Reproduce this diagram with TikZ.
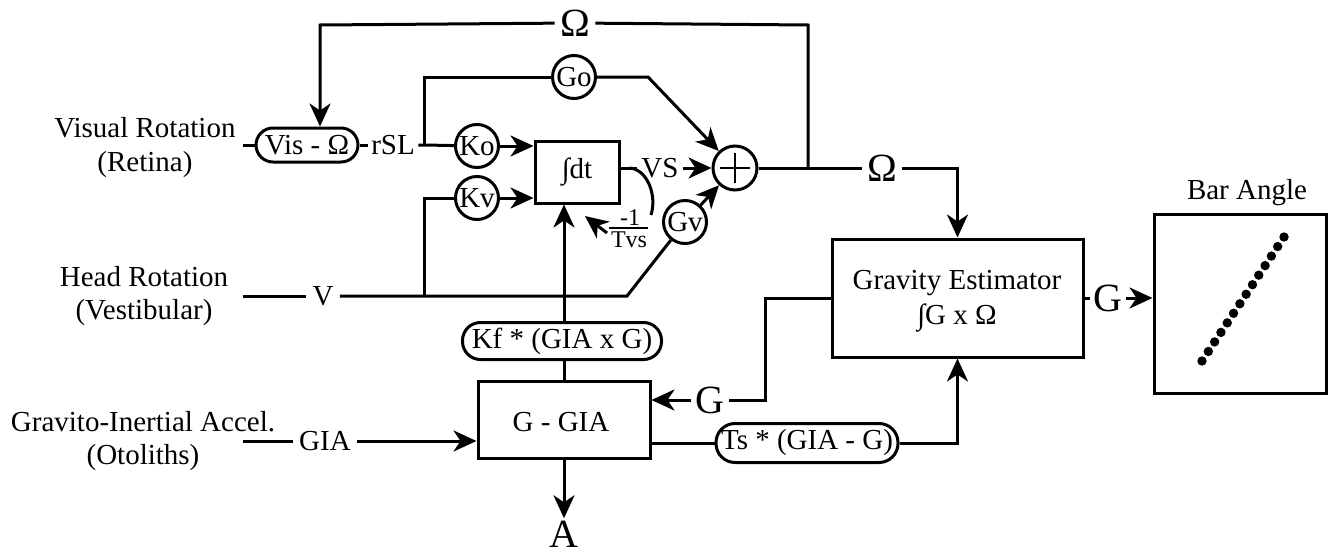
\documentclass[tikz,border=0pt]{standalone}
\usepackage{fontspec}
\setmainfont{Liberation Serif}
\usetikzlibrary{arrows.meta,calc}
\begin{document}
\begin{tikzpicture}[x=1pt,y=-1pt,
  line width=3pt,
  >={Stealth[length=23pt,width=21pt,inset=7pt]},
  txt/.style={font=\fontsize{29}{34}\selectfont, inner sep=3pt},
  big/.style={font=\fontsize{40}{44}\selectfont, inner sep=4pt},
  frc/.style={font=\fontsize{24}{26}\selectfont, inner sep=0pt},
  gain/.style={circle, draw, minimum size=43pt, inner sep=0pt, font=\fontsize{29}{34}\selectfont},
  pill/.style={draw, inner sep=0pt, font=\fontsize{29}{34}\selectfont},
  blk/.style={draw, inner sep=0pt, font=\fontsize{29}{34}\selectfont},
]
\useasboundingbox (0,0) rectangle (1331,554);

% left labels
\node[txt] (l1a) at (145,128) {Visual Rotation};
\node[txt] (l1b) at (145,165) {(Retina)};
\node[txt] (l2a) at (144,277) {Head Rotation};
\node[txt] (l2b) at (144,313) {(Vestibular)};
\node[txt] (l3a) at (143,422) {Gravito-Inertial Accel.};
\node[txt] (l3b) at (143,458) {(Otoliths)};

% nodes
\node[pill, rounded corners=17pt, minimum width=102pt, minimum height=34pt] (vis) at (307,145) {Vis - Ω};
\node[txt, inner sep=2pt] (rsl) at (393,145) {rSL};
\node[gain] (ko) at (477,146) {Ko};
\node[gain] (kv) at (477,198) {Kv};
\node[gain] (go) at (574,77) {Go};
\node[blk, minimum width=84pt, minimum height=62pt] (int) at (577,172) {∫dt};
\node[circle, draw, minimum size=44pt, inner sep=0pt] (plus) at (735,168) {};
\draw[line width=2.2pt] ($(plus.center)+(-15,0)$) -- ($(plus.center)+(15,0)$);
\draw[line width=2.2pt] ($(plus.center)+(0,-15)$) -- ($(plus.center)+(0,15)$);
\node[gain] (gv) at (685,222) {Gv};
\node[txt] (vs) at (660,168) {VS};
\node[frc] (fnum) at (630,218) {-1};
\node[frc] (fden) at (629,240) {Tvs};
\draw[line width=2pt] (609,228) -- (648,228);

\node[txt, inner sep=5pt] (vlab) at (323,296) {V};
\node[txt, inner sep=5pt] (gia) at (325,441) {GIA};

\node[pill, rounded corners=18pt, minimum width=199pt, minimum height=37pt] (kf) at (562,341) {Kf * (GIA x G)};
\node[blk, minimum width=172pt, minimum height=77pt] (gg) at (564,420) {};
\node[txt] at (561,422) {G - GIA};
\node[big, inner sep=1pt] (A) at (564,534) {A};
\node[pill, rounded corners=19pt, minimum width=182pt, minimum height=39pt] (ts) at (807,443) {Ts * (GIA - G)};

\node[blk, minimum width=251pt, minimum height=118pt] (gest) at (957.5,298) {};
\node[txt] at (957,283) {Gravity Estimator};
\node[txt] at (957,318) {∫G x Ω};

\node[blk, minimum width=172pt, minimum height=179pt] (bar) at (1240,303.5) {};
\node[txt] at (1247,193) {Bar Angle};
\foreach \i in {0,...,13}
  \fill ({1202+\i*82/13},{361-\i*124/13}) circle[radius=4.7pt];

\node[big] (om1) at (575,23) {Ω};
\node[big] (om2) at (882,168) {Ω};
\node[big, inner sep=3pt] (g1) at (710,400) {G};
\node[big, inner sep=2pt] (g2) at (1108,298) {G};

\coordinate (j1) at (424,145);
\coordinate (j2) at (424,296);
\coordinate (tl) at (320,25);
\coordinate (tr) at (808,25);
\coordinate (sp) at (808,168);
\coordinate (gf) at (765,298);

% connectors
\draw (243,145) -- (vis);
\draw (vis) -- (rsl);
\draw (rsl) -- (j1) -- (ko);
\draw (j1) -- (j1 |- go) -- (go);
\draw[->] (ko) -- (ko -| int.west);
\draw[->] (kv) -- (kv -| int.west);
\draw[->] (go) -- (648,77) -- (plus);

\draw (243,296) -- (vlab);
\draw (vlab) -- (627,296) -- (gv);
\draw (j2) -- (j2 |- kv) -- (kv);
\draw[->] (gv) -- (plus);

\draw (int.east |- plus) -- (vs);
\draw[->] (vs) -- (plus);
\draw (630,168) .. controls (648,170) and (657,196) .. (651,215);
\draw[->] (607,233) -- (585,216);

\draw (plus) -- (om2);
\draw[->] (om2) -- (gest.north |- om2) -- (gest.north);
\draw (sp) -- (tr) -- (om1);
\draw[->] (om1) -- (tl) -- (tl |- vis.north);

\draw[->] (gg.north |- kf.north) -- (gg.north |- int.south);
\draw (gg.north |- kf.south) -- (gg.north);
\draw[->] (gg.south) -- (A.north);

\draw (243,441) -- (gia);
\draw[->] (gia) -- (gia -| gg.west);

\draw (gest.west) -- (gf) -- (gf |- g1) -- (g1);
\draw[->] (g1) -- (g1 -| gg.east);

\draw (ts.west -| gg.east) -- (ts);
\draw[->] (ts) -- (gest.south |- ts) -- (gest.south);

\draw (gest.east |- g2) -- (g2);
\draw[->] (g2) -- (g2 -| bar.west);
\end{tikzpicture}
\end{document}
